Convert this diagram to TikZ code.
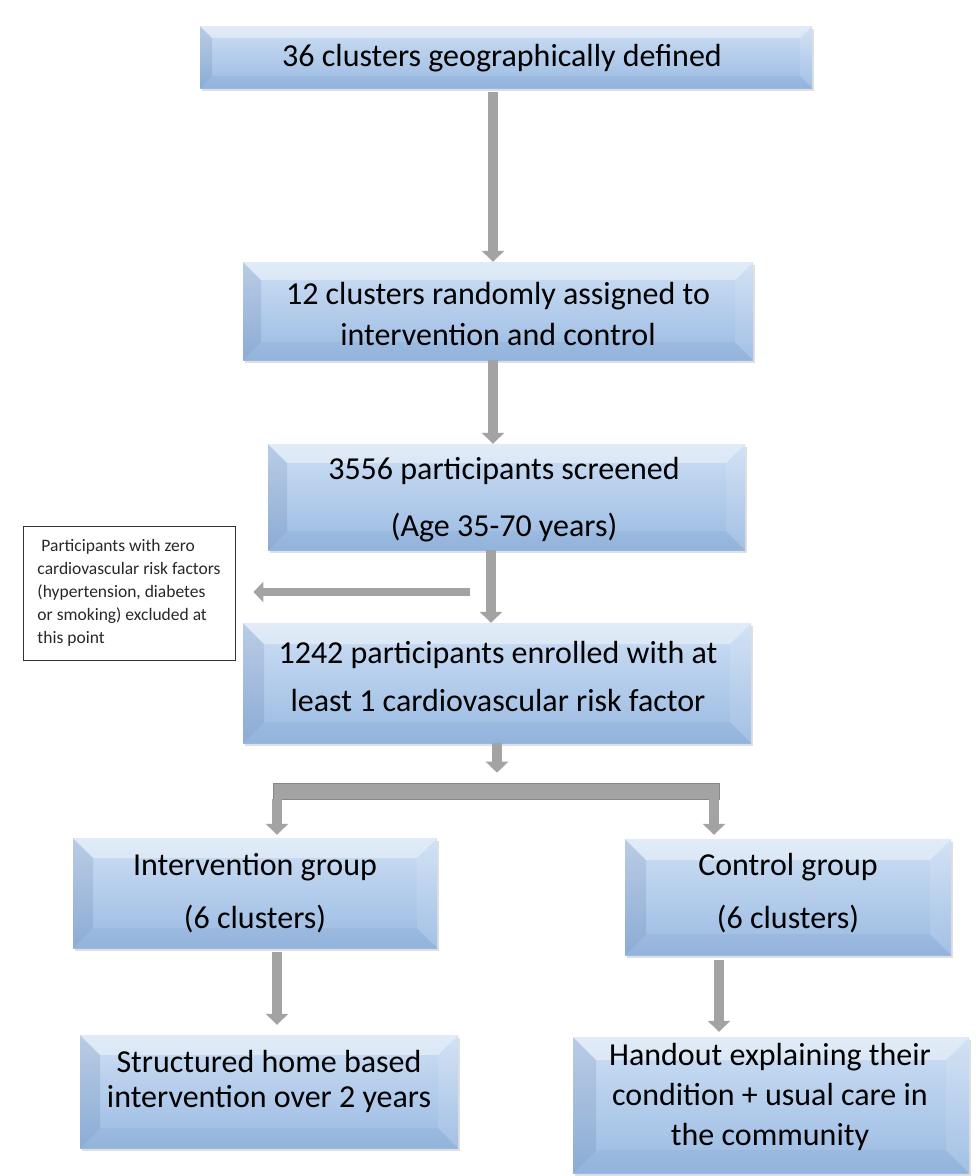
\documentclass[tikz,border=0pt]{standalone}
\usepackage{fontspec}
\setmainfont{Carlito}
\usetikzlibrary{arrows.meta,shadows}
\definecolor{bluetop}{RGB}{206,223,244}
\definecolor{bluebot}{RGB}{153,186,226}
\definecolor{bevdark}{RGB}{50,80,130}
\definecolor{arrgray}{RGB}{163,163,163}
\definecolor{arredge}{RGB}{135,135,135}
\definecolor{notetext}{RGB}{40,40,40}
\tikzset{
  bx/.style={draw=none, inner sep=0pt, top color=bluetop, bottom color=bluebot,
    drop shadow={shadow xshift=2pt, shadow yshift=-3pt, opacity=0.25},
    path picture={
      \path (path picture bounding box.north west) coordinate (pnw)
            (path picture bounding box.north east) coordinate (pne)
            (path picture bounding box.south west) coordinate (psw)
            (path picture bounding box.south east) coordinate (pse);
      \path (pnw) ++(#1,#1) coordinate (qnw)
            (pne) ++(-#1,#1) coordinate (qne)
            (psw) ++(#1,-#1) coordinate (qsw)
            (pse) ++(-#1,-#1) coordinate (qse);
      \fill[white, opacity=.40] (pnw) -- (pne) -- (qne) -- (qnw) -- cycle;
      \fill[bevdark, opacity=.13] (pnw) -- (qnw) -- (qsw) -- (psw) -- cycle;
      \fill[white, opacity=.10] (pne) -- (pse) -- (qse) -- (qne) -- cycle;
      \fill[bevdark, opacity=.06] (psw) -- (qsw) -- (qse) -- (pse) -- cycle;
    }},
  tx/.style={align=center, text=black, inner sep=0pt},
  garr/.style={draw=arrgray, line width=10pt, -{Triangle[width=22pt,length=11pt]}},
  sarr/.style={draw=arrgray, line width=8pt, -{Triangle[width=20pt,length=10pt]}},
}
\begin{document}
\begin{tikzpicture}[x=1pt, y=-1pt]
\useasboundingbox (0,0) rectangle (976,1176);
\fill[white] (0,0) rectangle (976,1176);

% boxes
\node[bx=12, minimum width=612pt, minimum height=62pt] (b1) at (506,57) {};
\node[bx=18, minimum width=510pt, minimum height=98pt] (b2) at (498,311) {};
\node[bx=19, minimum width=477pt, minimum height=106pt] (b3) at (506.5,497) {};
\node[bx=21, minimum width=508pt, minimum height=120pt] (b4) at (497,683) {};
\node[bx=20, minimum width=364pt, minimum height=110pt] (b5) at (255,893) {};
\node[bx=21, minimum width=326pt, minimum height=116pt] (b6) at (788,897) {};
\node[bx=20, minimum width=378pt, minimum height=113pt] (b7) at (269,1091.5) {};
\node[bx=23, minimum width=396pt, minimum height=136pt] (b8) at (771,1105) {};

% texts
\node[tx, font=\fontsize{32}{40}\selectfont] (t1) at (502,58) {36 clusters geographically defined};
\node[tx, font=\fontsize{32}{41}\selectfont] (t2) at (498,314) {12 clusters randomly assigned to\\intervention and control};
\node[tx, font=\fontsize{32}{57}\selectfont] (t3) at (504,500) {3556 participants screened\\(Age 35-70 years)};
\node[tx, font=\fontsize{32}{48}\selectfont] (t4) at (498,676) {1242 participants enrolled with at\\least 1 cardiovascular risk factor};
\node[tx, font=\fontsize{32}{53}\selectfont] (t5) at (255,893) {Intervention group\\(6 clusters)};
\node[tx, font=\fontsize{32}{53}\selectfont] (t6) at (788,893) {Control group\\(6 clusters)};
\node[tx, font=\fontsize{32}{35}\selectfont] (t7) at (269,1081) {Structured home based\\intervention over 2 years};
\node[tx, font=\fontsize{32}{40}\selectfont] (t8) at (770,1097) {Handout explaining their\\condition + usual care in\\the community};

% side note
\node[draw=black!80, line width=0.8pt, fill=white, minimum width=212pt, minimum height=134pt,
      align=left, inner sep=0pt, text=notetext, font=\fontsize{17.5}{23}\selectfont] (note) at (129,593)
  {\hspace*{4pt}Participants with zero\\cardiovascular risk factors\\(hypertension, diabetes\\or smoking) excluded at\\this point};

% splitter bar
\node[draw=arredge, fill=arrgray, line width=0.6pt, minimum width=446pt, minimum height=16pt, inner sep=0pt] (bar) at (496,791) {};

% arrow x positions
\coordinate (xA) at (493,0);
\coordinate (xB) at (491,0);
\coordinate (xC) at (497,0);
\coordinate (xL) at (277,0);
\coordinate (xR) at (714,0);
\coordinate (xR2) at (719,0);
\coordinate (sidestart) at (470,592);

\draw[garr, shorten <=4pt] (b1.south -| xA) -- (b2.north -| xA);
\draw[garr] (b2.south -| xA) -- (b3.north -| xA);
\draw[garr] (b3.south -| xB) -- (b4.north -| xB);
\draw[sarr, shorten >=18pt] (sidestart) -- (note.east |- sidestart);
\draw[garr, shorten >=10pt] (b4.south -| xC) -- (bar.north -| xC);
\draw[garr, shorten >=3pt] (bar.south -| xL) -- (b5.north -| xL);
\draw[garr, shorten >=4pt] (bar.south -| xR) -- (b6.north -| xR);
\draw[garr, shorten <=4pt, shorten >=10pt] (b5.south -| xL) -- (b7.north -| xL);
\draw[garr, shorten <=5pt, shorten >=5pt] (b6.south -| xR2) -- (b8.north -| xR2);
\end{tikzpicture}
\end{document}
